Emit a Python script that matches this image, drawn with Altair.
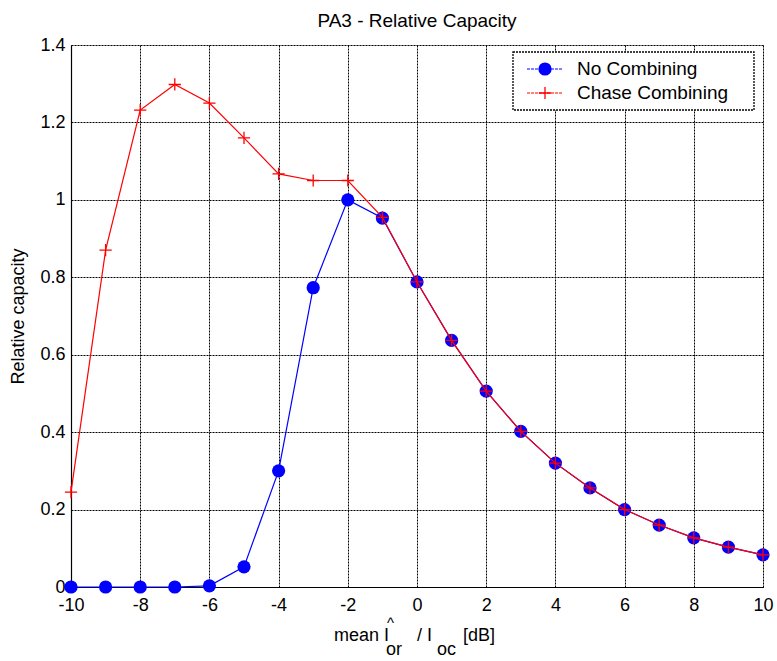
import altair as alt
import pandas as pd

x_vals = list(range(-10, 11))
no_combining = [0.0, 0.0, 0.0, 0.0, 0.003, 0.052, 0.30, 0.773, 1.0, 0.953,
                0.788, 0.637, 0.506, 0.402, 0.320, 0.256, 0.200, 0.160, 0.127, 0.103, 0.083]
chase_combining = [0.245, 0.870, 1.232, 1.298, 1.250, 1.160, 1.067, 1.050, 1.050, 0.955,
                   0.788, 0.637, 0.506, 0.402, 0.320, 0.256, 0.200, 0.160, 0.127, 0.103, 0.083]
series_names = ["No Combining", "Chase Combining"]
x_ticks = [-10, -8, -6, -4, -2, 0, 2, 4, 6, 8, 10]
y_ticks = [0, 0.2, 0.4, 0.6, 0.8, 1.0, 1.2, 1.4]

FONT = "Liberation Sans"
W, H = 692, 542
PLUS = "M-1,0H1M0,-1V1"

df_nc = pd.DataFrame({"x": x_vals, "y": no_combining})
df_cc = pd.DataFrame({"x": x_vals, "y": chase_combining})

xs = alt.Scale(domain=[-10, 10], nice=False, zero=False)
ys = alt.Scale(domain=[0, 1.4], nice=False)

xax = alt.Axis(values=x_ticks, title=None, grid=True, ticks=False, labelPadding=9,
               labelFontSize=18, labelFont=FONT, labelColor="black",
               labelExpr="'' + datum.value",
               gridColor="black", gridDash=[2, 1], gridOpacity=1, gridWidth=1,
               domainColor="black", domainWidth=1.2, labelFlush=False)
yax = alt.Axis(values=y_ticks, title="Relative capacity", grid=True, ticks=False,
               labelPadding=6, labelFontSize=18, labelFont=FONT, labelColor="black",
               labelExpr="'' + datum.value",
               titleFont=FONT, titleFontSize=18, titleFontWeight="normal", titleColor="black",
               titlePadding=12,
               gridColor="black", gridDash=[2, 1], gridOpacity=1, gridWidth=1,
               domainColor="black", domainWidth=1.2)

base_nc = alt.Chart(df_nc)
base_cc = alt.Chart(df_cc)

line_nc = base_nc.mark_line(color="#0000ff", strokeWidth=1.2, clip=False).encode(
    x=alt.X("x:Q", scale=xs, axis=xax), y=alt.Y("y:Q", scale=ys, axis=yax))
pts_nc = base_nc.mark_point(shape="circle", filled=True, color="#0000ff", size=175, opacity=1).encode(
    x=alt.X("x:Q", scale=xs), y=alt.Y("y:Q", scale=ys))
line_cc = base_cc.mark_line(color="#ff0000", strokeWidth=1.2).encode(
    x=alt.X("x:Q", scale=xs), y=alt.Y("y:Q", scale=ys))
pts_cc = base_cc.mark_point(shape=PLUS, filled=False, color="#ff0000", size=150, strokeWidth=1.3, opacity=1).encode(
    x=alt.X("x:Q", scale=xs), y=alt.Y("y:Q", scale=ys))

# legend (manual, MATLAB style)
one = pd.DataFrame({"a": [0]})
leg_box = alt.Chart(one).mark_rect(
    fill="white", stroke="black", strokeDash=[2, 1], strokeWidth=1.3).encode(
    x=alt.value(442), x2=alt.value(683), y=alt.value(7), y2=alt.value(65))
leg_nc_line = alt.Chart(one).mark_rule(
    color="#0000ff", strokeDash=[3, 1], strokeWidth=1.2).encode(
    x=alt.value(456), x2=alt.value(492), y=alt.value(24))
leg_nc_pt = alt.Chart(one).mark_point(
    shape="circle", filled=True, color="#0000ff", size=175, opacity=1).encode(
    x=alt.value(474), y=alt.value(24))
leg_cc_line = alt.Chart(one).mark_rule(
    color="#ff0000", strokeDash=[3, 1], strokeWidth=1.2).encode(
    x=alt.value(456), x2=alt.value(492), y=alt.value(48))
leg_cc_pt = alt.Chart(one).mark_point(
    shape=PLUS, filled=False, color="#ff0000", size=150, strokeWidth=1.3, opacity=1).encode(
    x=alt.value(474), y=alt.value(48))
leg_text = alt.Chart(pd.DataFrame({"name": series_names, "yy": [24, 48]})).mark_text(
    align="left", baseline="middle", font=FONT, fontSize=19, color="black").encode(
    x=alt.value(506), y=alt.Y("yy:Q", scale=None), text="name:N")

# x-axis title with sub/superscripts
def txt(s, x, y, size=18):
    return alt.Chart(pd.DataFrame({"t": [s]})).mark_text(
        align="left", baseline="alphabetic", font=FONT, fontSize=size, color="black").encode(
        x=alt.value(x), y=alt.value(y), text="t:N")

xtitle = alt.layer(
    txt("mean I", 263, 596),
    txt("^", 316, 583, 15),
    txt("or", 315, 610),
    txt("/ I", 346, 596),
    txt("oc", 366, 610),
    txt("[dB]", 392, 596),
)

chart = alt.layer(line_nc, pts_nc, line_cc, pts_cc,
                  leg_box, leg_nc_line, leg_nc_pt, leg_cc_line, leg_cc_pt, leg_text,
                  xtitle).properties(
    width=W, height=H,
    title=alt.TitleParams("PA3 - Relative Capacity", font=FONT, fontSize=19,
                          fontWeight="normal", color="black", offset=5, anchor="middle"),
    autosize=alt.AutoSizeParams(type="none"),
    padding={"left": 71, "top": 45, "right": 14, "bottom": 74},
).configure_view(stroke="black", strokeDash=[2, 1], strokeWidth=1.2).configure(background="white")

chart.save("out.html", embed_options={"renderer": "svg", "actions": False})
